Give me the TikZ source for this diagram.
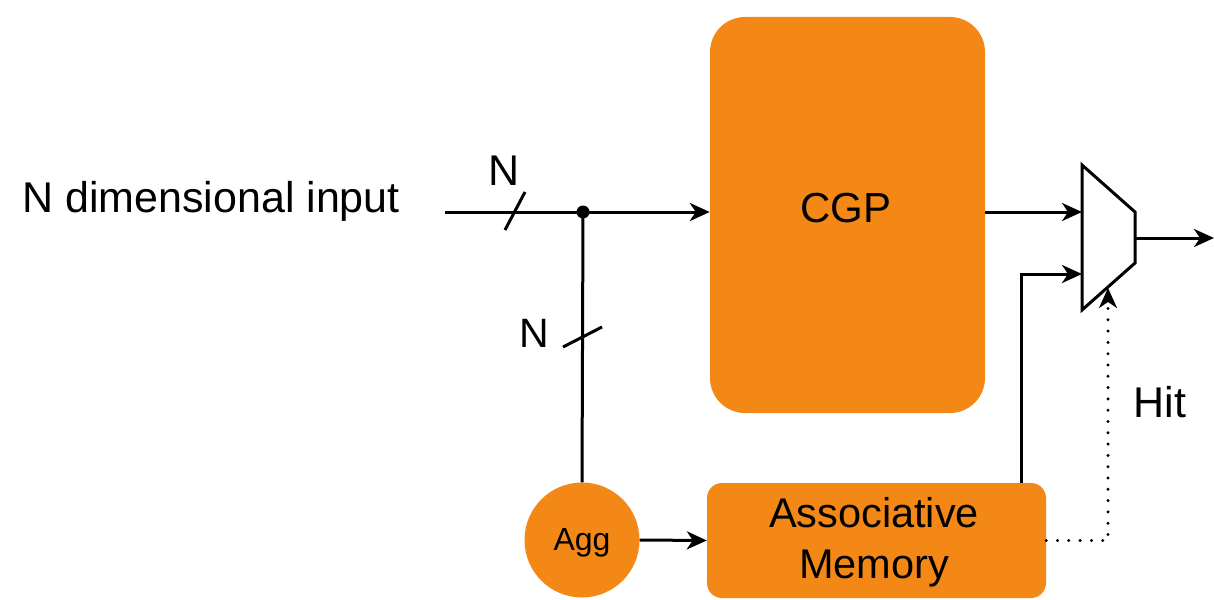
\documentclass[tikz,border=0pt]{standalone}
\usepackage{fontspec}
\setmainfont{Liberation Sans}
\usetikzlibrary{arrows.meta}
\definecolor{org}{RGB}{243,136,22}
\begin{document}
\begin{tikzpicture}[x=1pt,y=-1pt,
  blk/.style={fill=org,draw=none,inner sep=0pt},
  wire/.style={line width=3pt},
  arr/.style={wire,-{Stealth[length=20pt,width=18pt,inset=6pt]}},
  txt/.style={inner sep=0pt,anchor=base},
  big/.style={font=\fontsize{43}{50}\selectfont}]
\useasboundingbox (0,0) rectangle (1214,599);
% blocks
\node[blk, rounded corners=35pt, minimum width=275pt, minimum height=396pt] (cgp) at (847.5,215) {};
\node[txt,font=\fontsize{42}{50}\selectfont] (cgplbl) at (846,222) {CGP};
\node[blk, rounded corners=15pt, minimum width=339pt, minimum height=115pt] (am) at (876.5,540.5) {};
\node[txt,font=\fontsize{41.5}{50}\selectfont] (aml1) at (874,527) {Associative};
\node[txt,font=\fontsize{41.5}{50}\selectfont] (aml2) at (874,578) {Memory};
\node[blk, circle, minimum size=115pt] (agg) at (582,540) {};
\node[txt,font=\fontsize{32}{38}\selectfont] (agglbl) at (582,550) {Agg};
% labels
\node[txt,big,anchor=base west] (inlbl) at (22,212) {N dimensional input};
\node[txt,big] (n1) at (504,185) {N};
\node[txt,font=\fontsize{41}{48}\selectfont] (n2) at (534,347) {N};
\node[txt,big] (hit) at (1160,417) {Hit};
% coordinates
\coordinate (in) at (445,212);
\coordinate (j) at (583,212);
\coordinate (m1) at (1082,165);
\coordinate (m2) at (1135,212);
\coordinate (m3) at (1135,263);
\coordinate (m4) at (1082,310);
\coordinate (mi1) at (1082,212);
\coordinate (mi2) at (1082,274);
\coordinate (mo) at (1135,238);
\coordinate (out) at (1214,238);
\coordinate (ms) at (1108,288);
\coordinate (amt) at (1021,483);
\coordinate (s1a) at (505,230);
\coordinate (s1b) at (525,192);
\coordinate (s2a) at (563,347);
\coordinate (s2b) at (602,327);
% connectors
\draw[arr] (in) -- (cgp.west |- j);
\fill (j) circle (6.5pt);
\draw[wire] (s1a) -- (s1b);
\draw[wire] (j) -- (agg.north);
\draw[wire] (s2a) -- (s2b);
\draw[arr] (agg.east) -- (am.west);
\draw[wire, line join=miter] (m1) -- (m2) -- (m3) -- (m4) -- cycle;
\draw[arr] (cgp.east |- mi1) -- (mi1);
\draw[arr] (amt) |- (mi2);
\draw[arr] (mo) -- (out);
\draw[line width=3.3pt, line cap=round, dash pattern=on 0pt off 11.3pt, -{Stealth[length=20pt,width=18pt,inset=6pt,line width=3pt]}] (am.east |- am.center) -| (ms);
\end{tikzpicture}
\end{document}
